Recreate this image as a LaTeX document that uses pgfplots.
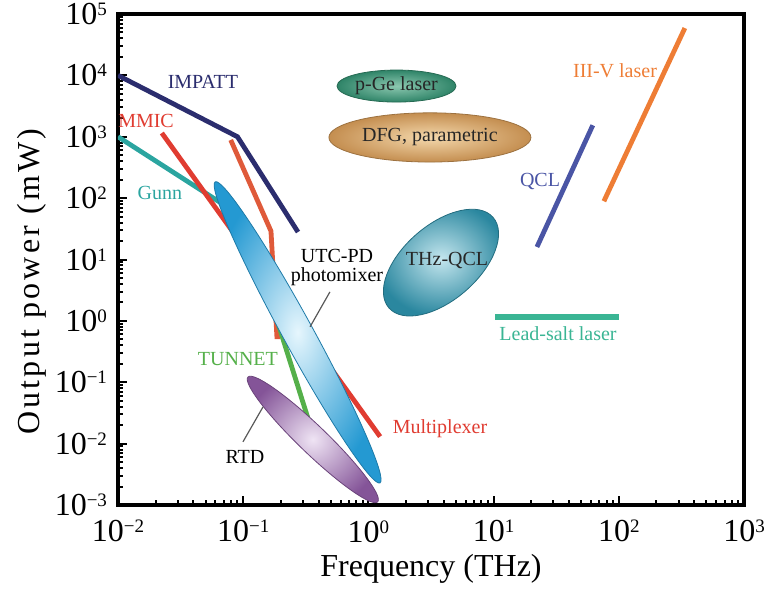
\documentclass[border=0pt]{standalone}
\usepackage{fontspec}
\setmainfont{Liberation Serif}
\usepackage{pgfplots}
\pgfplotsset{compat=1.18}
\usetikzlibrary{shapes.geometric}

\definecolor{impatt}{HTML}{2B2D6E}
\definecolor{mmic}{HTML}{E03C31}
\definecolor{redtwo}{HTML}{DF5A3A}
\definecolor{gunn}{HTML}{2BA5A0}
\definecolor{tunnet}{HTML}{55B04A}
\definecolor{qcl}{HTML}{4A55A5}
\definecolor{threefive}{HTML}{EE7D35}
\definecolor{leadsalt}{HTML}{3AB594}
\definecolor{pgeout}{HTML}{2F8468}
\definecolor{pgein}{HTML}{8CC8B0}
\definecolor{dfgout}{HTML}{C48E50}
\definecolor{dfgin}{HTML}{F4D8AC}
\definecolor{thzout}{HTML}{2A879F}
\definecolor{thzin}{HTML}{C4E6EE}
\definecolor{utcout}{HTML}{2499D2}
\definecolor{utcin}{HTML}{E6F6FD}
\definecolor{rtdout}{HTML}{845498}
\definecolor{rtdin}{HTML}{EFE4F4}

\newcommand{\tl}[1]{10\raisebox{4.5pt}{\fontsize{9.5}{9.5}\selectfont #1}}
\newcommand{\lab}{\fontsize{10}{9.8}\selectfont}

\tikzset{blob/.style n args={4}{ellipse, inner sep=0pt, outer sep=0pt,
  minimum width=#1, minimum height=#2, inner color=#3, outer color=#4,
  draw=#4!80!black, line width=0.4pt}}

\begin{document}
\begin{tikzpicture}
\begin{axis}[
  scale only axis, width=313pt, height=245.5pt,
  xmode=log, ymode=log,
  xmin=1e-2, xmax=1e3, ymin=1e-3, ymax=1e5,
  axis line style={line width=1.8pt},
  tick align=inside, xtick pos=bottom, ytick pos=left,
  major tick length=4.5pt, minor tick length=2.5pt,
  every tick/.style={line width=1pt, black},
  xtick={1e-2,1e-1,1,10,100,1000},
  xticklabels={\tl{−2},\tl{−1},\tl{0},\tl{1},\tl{2},\tl{3}},
  ytick={1e-3,1e-2,1e-1,1,10,100,1000,1e4,1e5},
  yticklabels={\tl{−3},\tl{−2},\tl{−1},\tl{0},\tl{1},\tl{2},\tl{3},\tl{4},\tl{5}},
  tick label style={font=\fontsize{16}{16}\selectfont, inner sep=0.5pt},
  xticklabel style={yshift=-7pt},
  yticklabel style={xshift=-4.8pt},
  xlabel={Frequency (THz)},
  ylabel={\addfontfeature{LetterSpace=10}Output power (mW)},
  label style={font=\fontsize{16}{18}\selectfont},
  xlabel style={at={(axis description cs:0.5,-0.13)}, anchor=center},
  ylabel style={at={(axis description cs:-0.137,0.455)}, anchor=center},
]
% lines
\addplot[impatt, line width=2.4pt] coordinates {(0.01,10000) (0.09,1000) (0.274,28)};
\addplot[gunn, line width=2.4pt] coordinates {(0.01,1000) (0.07,78)};
\addplot[mmic, line width=2.4pt] coordinates {(0.0224,1150) (1.24,0.013)};
\addplot[redtwo, line width=2.4pt] coordinates {(0.0795,887) (0.1667,29) (0.186,0.55) (0.197,0.55)};
\addplot[tunnet, line width=2.4pt] coordinates {(0.186,1.04) (0.342,0.0202)};
\addplot[qcl, line width=2.4pt] coordinates {(22.2,16) (62,1540)};
\addplot[threefive, line width=2.4pt] coordinates {(76,89) (337,59000)};
\addplot[leadsalt, line width=2.6pt] coordinates {(10.3,1.16) (100,1.16)};

% ellipses
\node[blob={59.5pt}{16pt}{pgein}{pgeout}] at (axis cs:1.677,6700) {};
\node[blob={101pt}{24.6pt}{dfgin}{dfgout}] at (axis cs:3.1,975) {};
\node[blob={69pt}{37.5pt}{thzin}{thzout}, rotate=41] at (axis cs:3.8,8.9) {};
\node[blob={171.6pt}{15.2pt}{utcin}{utcout}, rotate=-61.3] at (axis cs:0.272,0.65) {};
\node[blob={90pt}{14pt}{rtdin}{rtdout}, rotate=-43.9] at (axis cs:0.36,0.0117) {};

% pointer lines
\draw[gray!70!black, line width=0.6pt] (axis cs:0.493,2.97) -- (axis cs:0.342,0.80);
\draw[gray!70!black, line width=0.6pt] (axis cs:0.0996,0.0107) -- (axis cs:0.144,0.0397);

% labels
\node[impatt, font=\lab] at (axis cs:0.0477,7820) {IMPATT};
\node[mmic, font=\lab] at (axis cs:0.01675,1807) {MMIC};
\node[gunn, font=\lab] at (axis cs:0.0216,122) {Gunn};
\node[black, font=\lab, align=center] at (axis cs:0.561,7.4) {UTC-PD\\photomixer};
\node[tunnet, font=\lab] at (axis cs:0.0908,0.24) {TUNNET};
\node[black, font=\lab] at (axis cs:0.1033,0.0061) {RTD};
\node[mmic, font=\lab] at (axis cs:3.73,0.0174) {Multiplexer};
\node[black!85, font=\lab] at (axis cs:1.677,6700) {p-Ge laser};
\node[black!85, font=\lab] at (axis cs:3.1,975) {DFG, parametric};
\node[black!85, font=\lab] at (axis cs:4.25,9.8) {THz-QCL};
\node[qcl, font=\lab] at (axis cs:23.5,184) {QCL};
\node[threefive, font=\lab] at (axis cs:93.3,11800) {III-V laser};
\node[leadsalt, font=\lab] at (axis cs:32.7,0.614) {Lead-salt laser};
\end{axis}
\pgfresetboundingbox
\useasboundingbox (-59pt,-42.5pt) rectangle (324pt,252.5pt);
\end{tikzpicture}
\end{document}
